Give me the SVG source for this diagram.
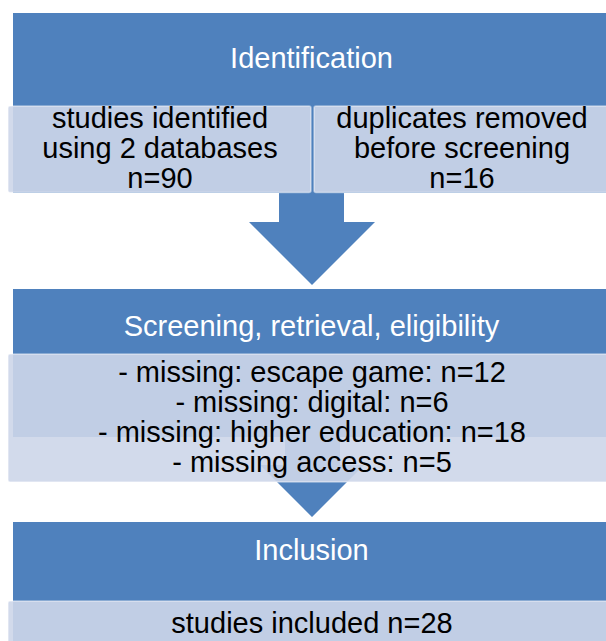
<svg xmlns="http://www.w3.org/2000/svg" width="606" height="641" viewBox="0 0 606 641">
  <style>
    .hdr { fill: #4f81bd; }
    .box { fill: #cdd6e9; fill-opacity: 0.9; stroke: #ffffff; stroke-opacity: 0.45; stroke-width: 1.5; }
    .arrow { fill: #4f81bd; }
    .ht { font-family: "Liberation Sans", Arial, sans-serif; font-size: 29px; fill: #ffffff; text-anchor: middle; }
    .bt { font-family: "Liberation Sans", Arial, sans-serif; font-size: 29px; fill: #000000; text-anchor: middle; }
  </style>
  <rect width="606" height="641" fill="#ffffff"/>

  <!-- connectors: block arrows between stages -->
  <g id="connectors">
    <polygon class="arrow" points="279,150 344,150 344,222 375,222 312,285 249,222 279,222"/>
    <polygon class="arrow" points="285,420 340,420 340,465 364,465 312,517 260,465 285,465"/>
  </g>

  <!-- stage 1 -->
  <g id="identification">
    <rect class="hdr" x="13" y="13" width="600" height="180"/>
    <text class="ht" x="311.5" y="68">Identification</text>
  </g>
  <g id="identified">
    <rect class="box" x="8" y="106" width="303" height="86.5" rx="2"/>
    <text class="bt" x="160" y="128.3">studies identified</text>
    <text class="bt" x="160" y="158.3">using 2 databases</text>
    <text class="bt" x="160" y="188.3">n=90</text>
  </g>
  <g id="duplicates">
    <rect class="box" x="314" y="106" width="300" height="86.5" rx="2"/>
    <text class="bt" x="462" y="128.3">duplicates removed</text>
    <text class="bt" x="462" y="158.3">before screening</text>
    <text class="bt" x="462" y="188.3">n=16</text>
  </g>

  <!-- stage 2 -->
  <g id="screening">
    <rect class="hdr" x="13" y="289" width="600" height="148"/>
    <text class="ht" x="311.5" y="336">Screening, retrieval, eligibility</text>
  </g>
  <g id="exclusions">
    <rect class="box" x="8" y="354" width="606" height="128" rx="2"/>
    <text class="bt" x="312" y="381.7">- missing: escape game: n=12</text>
    <text class="bt" x="312" y="411.7">- missing: digital: n=6</text>
    <text class="bt" x="312" y="441.7">- missing: higher education: n=18</text>
    <text class="bt" x="312" y="471.7">- missing access: n=5</text>
  </g>

  <!-- stage 3 -->
  <g id="inclusion">
    <rect class="hdr" x="13" y="522" width="600" height="130"/>
    <text class="ht" x="311.5" y="560">Inclusion</text>
  </g>
  <g id="included">
    <rect class="box" x="8" y="601" width="606" height="60" rx="2"/>
    <text class="bt" x="312" y="633">studies included n=28</text>
  </g>
</svg>
